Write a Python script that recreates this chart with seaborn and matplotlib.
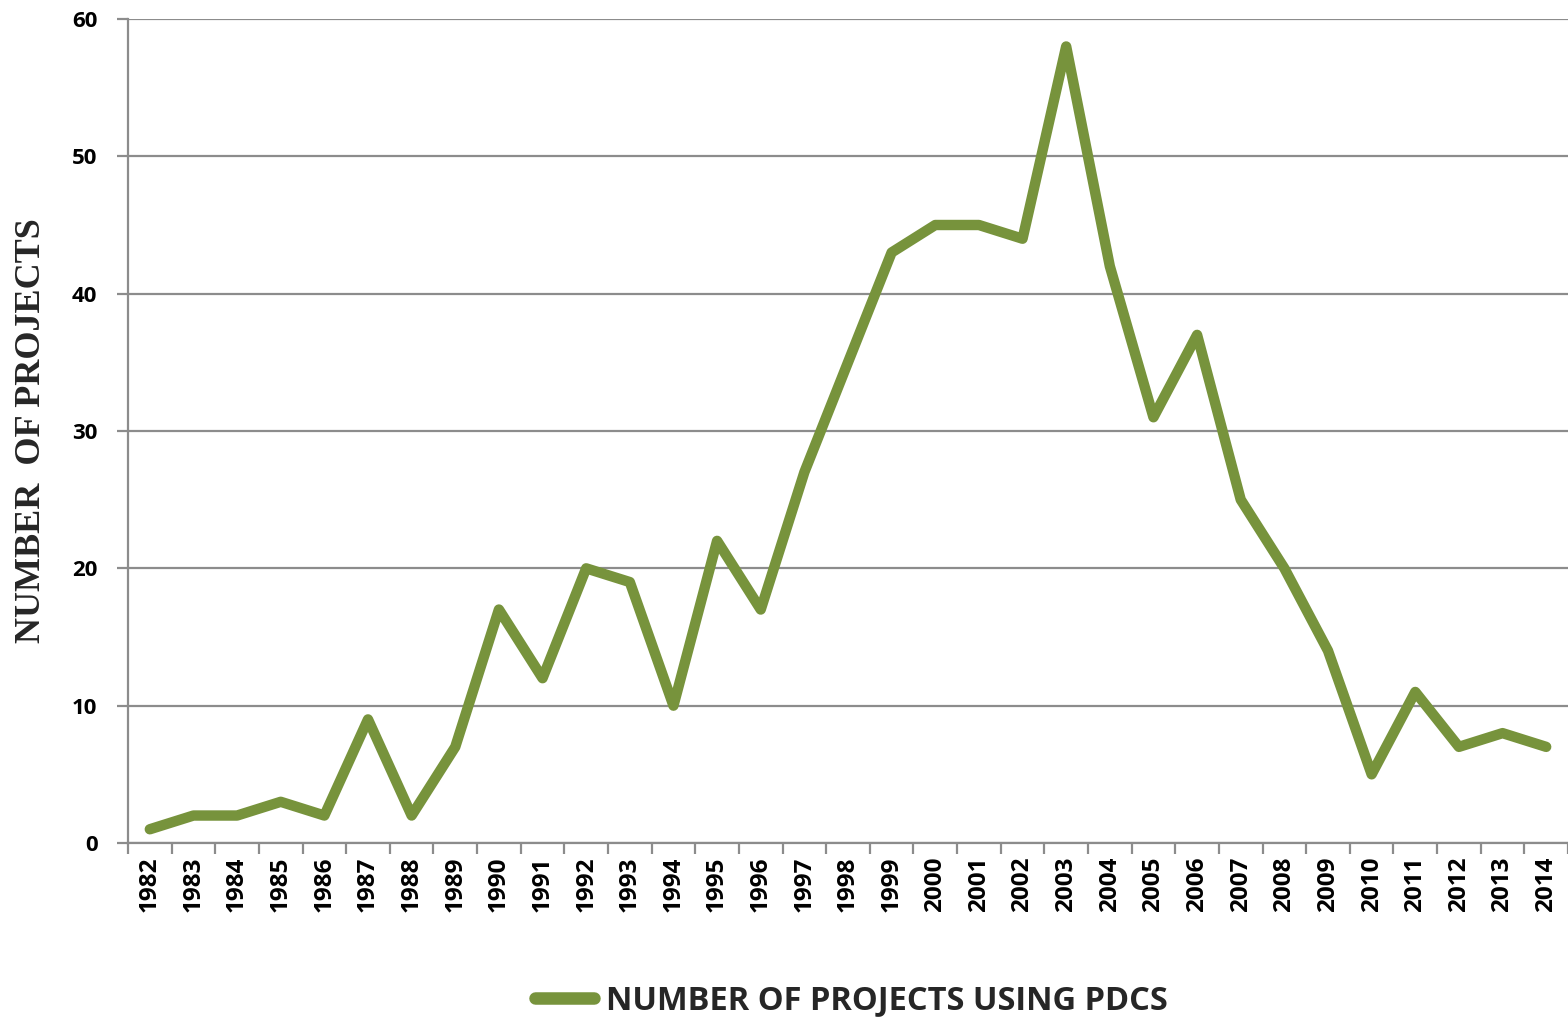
import matplotlib
matplotlib.use("Agg")
import matplotlib.pyplot as plt
import seaborn as sns
import pandas as pd
from matplotlib.ticker import FixedLocator

years = [str(y) for y in range(1982, 2015)]
projects = [1, 2, 2, 3, 2, 9, 2, 7, 17, 12, 20, 19, 10, 22, 17, 27, 35, 43,
            45, 45, 44, 58, 42, 31, 37, 25, 20, 14, 5, 11, 7, 8, 7]
series_name = "NUMBER OF PROJECTS USING PDCS"
y_label = "NUMBER  OF PROJECTS"

sns.set_theme(style="white")
plt.rcParams['font.family'] = ['Open Sans', 'DejaVu Sans']

df = pd.DataFrame({"year": years, "projects": projects})

fig = plt.figure(figsize=(15.68, 10.18), dpi=100)
ax = fig.add_axes([128/1568, 1-843/1018, 1-128/1568, (843-19)/1018])

green = "#77933C"
grid_c = "#8C8C8C"
sns.lineplot(data=df, x="year", y="projects", ax=ax, color=green, linewidth=7.5,
             label=series_name, sort=False, solid_capstyle="round", solid_joinstyle="round")

ax.set_xlim(-0.5, len(years) - 0.5)
ax.set_ylim(0, 60)
ax.set_yticks(range(0, 61, 10))
ax.yaxis.grid(True, color=grid_c, linewidth=1.6)
ax.xaxis.grid(False)
ax.set_axisbelow(True)

for s in ["top", "right"]:
    ax.spines[s].set_visible(False)
for s in ["left", "bottom"]:
    ax.spines[s].set_color(grid_c)
    ax.spines[s].set_linewidth(1.6)

ax.xaxis.set_minor_locator(FixedLocator([i - 0.5 for i in range(len(years) + 1)]))
ax.tick_params(axis="x", which="major", length=0, pad=10, labelrotation=90, labelsize=17.5)
ax.tick_params(axis="x", which="minor", length=8, width=1.6, color=grid_c, direction="out", bottom=True)
ax.tick_params(axis="y", which="major", length=8, width=1.6, color=grid_c, direction="out", left=True, labelsize=16, pad=14)
for lab in ax.get_xticklabels() + ax.get_yticklabels():
    lab.set_fontweight("bold")
    lab.set_color("black")

ax.set_xlabel("")
ax.set_ylabel(y_label, fontsize=26, fontweight="bold", family="Liberation Serif")
ax.yaxis.set_label_coords(-0.0555, 0.5)

ax.get_legend().remove()
leg = fig.legend(loc="center", bbox_to_anchor=(0.543, 0.017), frameon=False,
                 prop={"weight": "bold", "size": 23.5}, handlelength=1.8, handletextpad=0.35)
for h in leg.get_lines():
    h.set_linewidth(9)
    h.set_solid_capstyle("round")

fig.savefig("out.png", dpi=100)
